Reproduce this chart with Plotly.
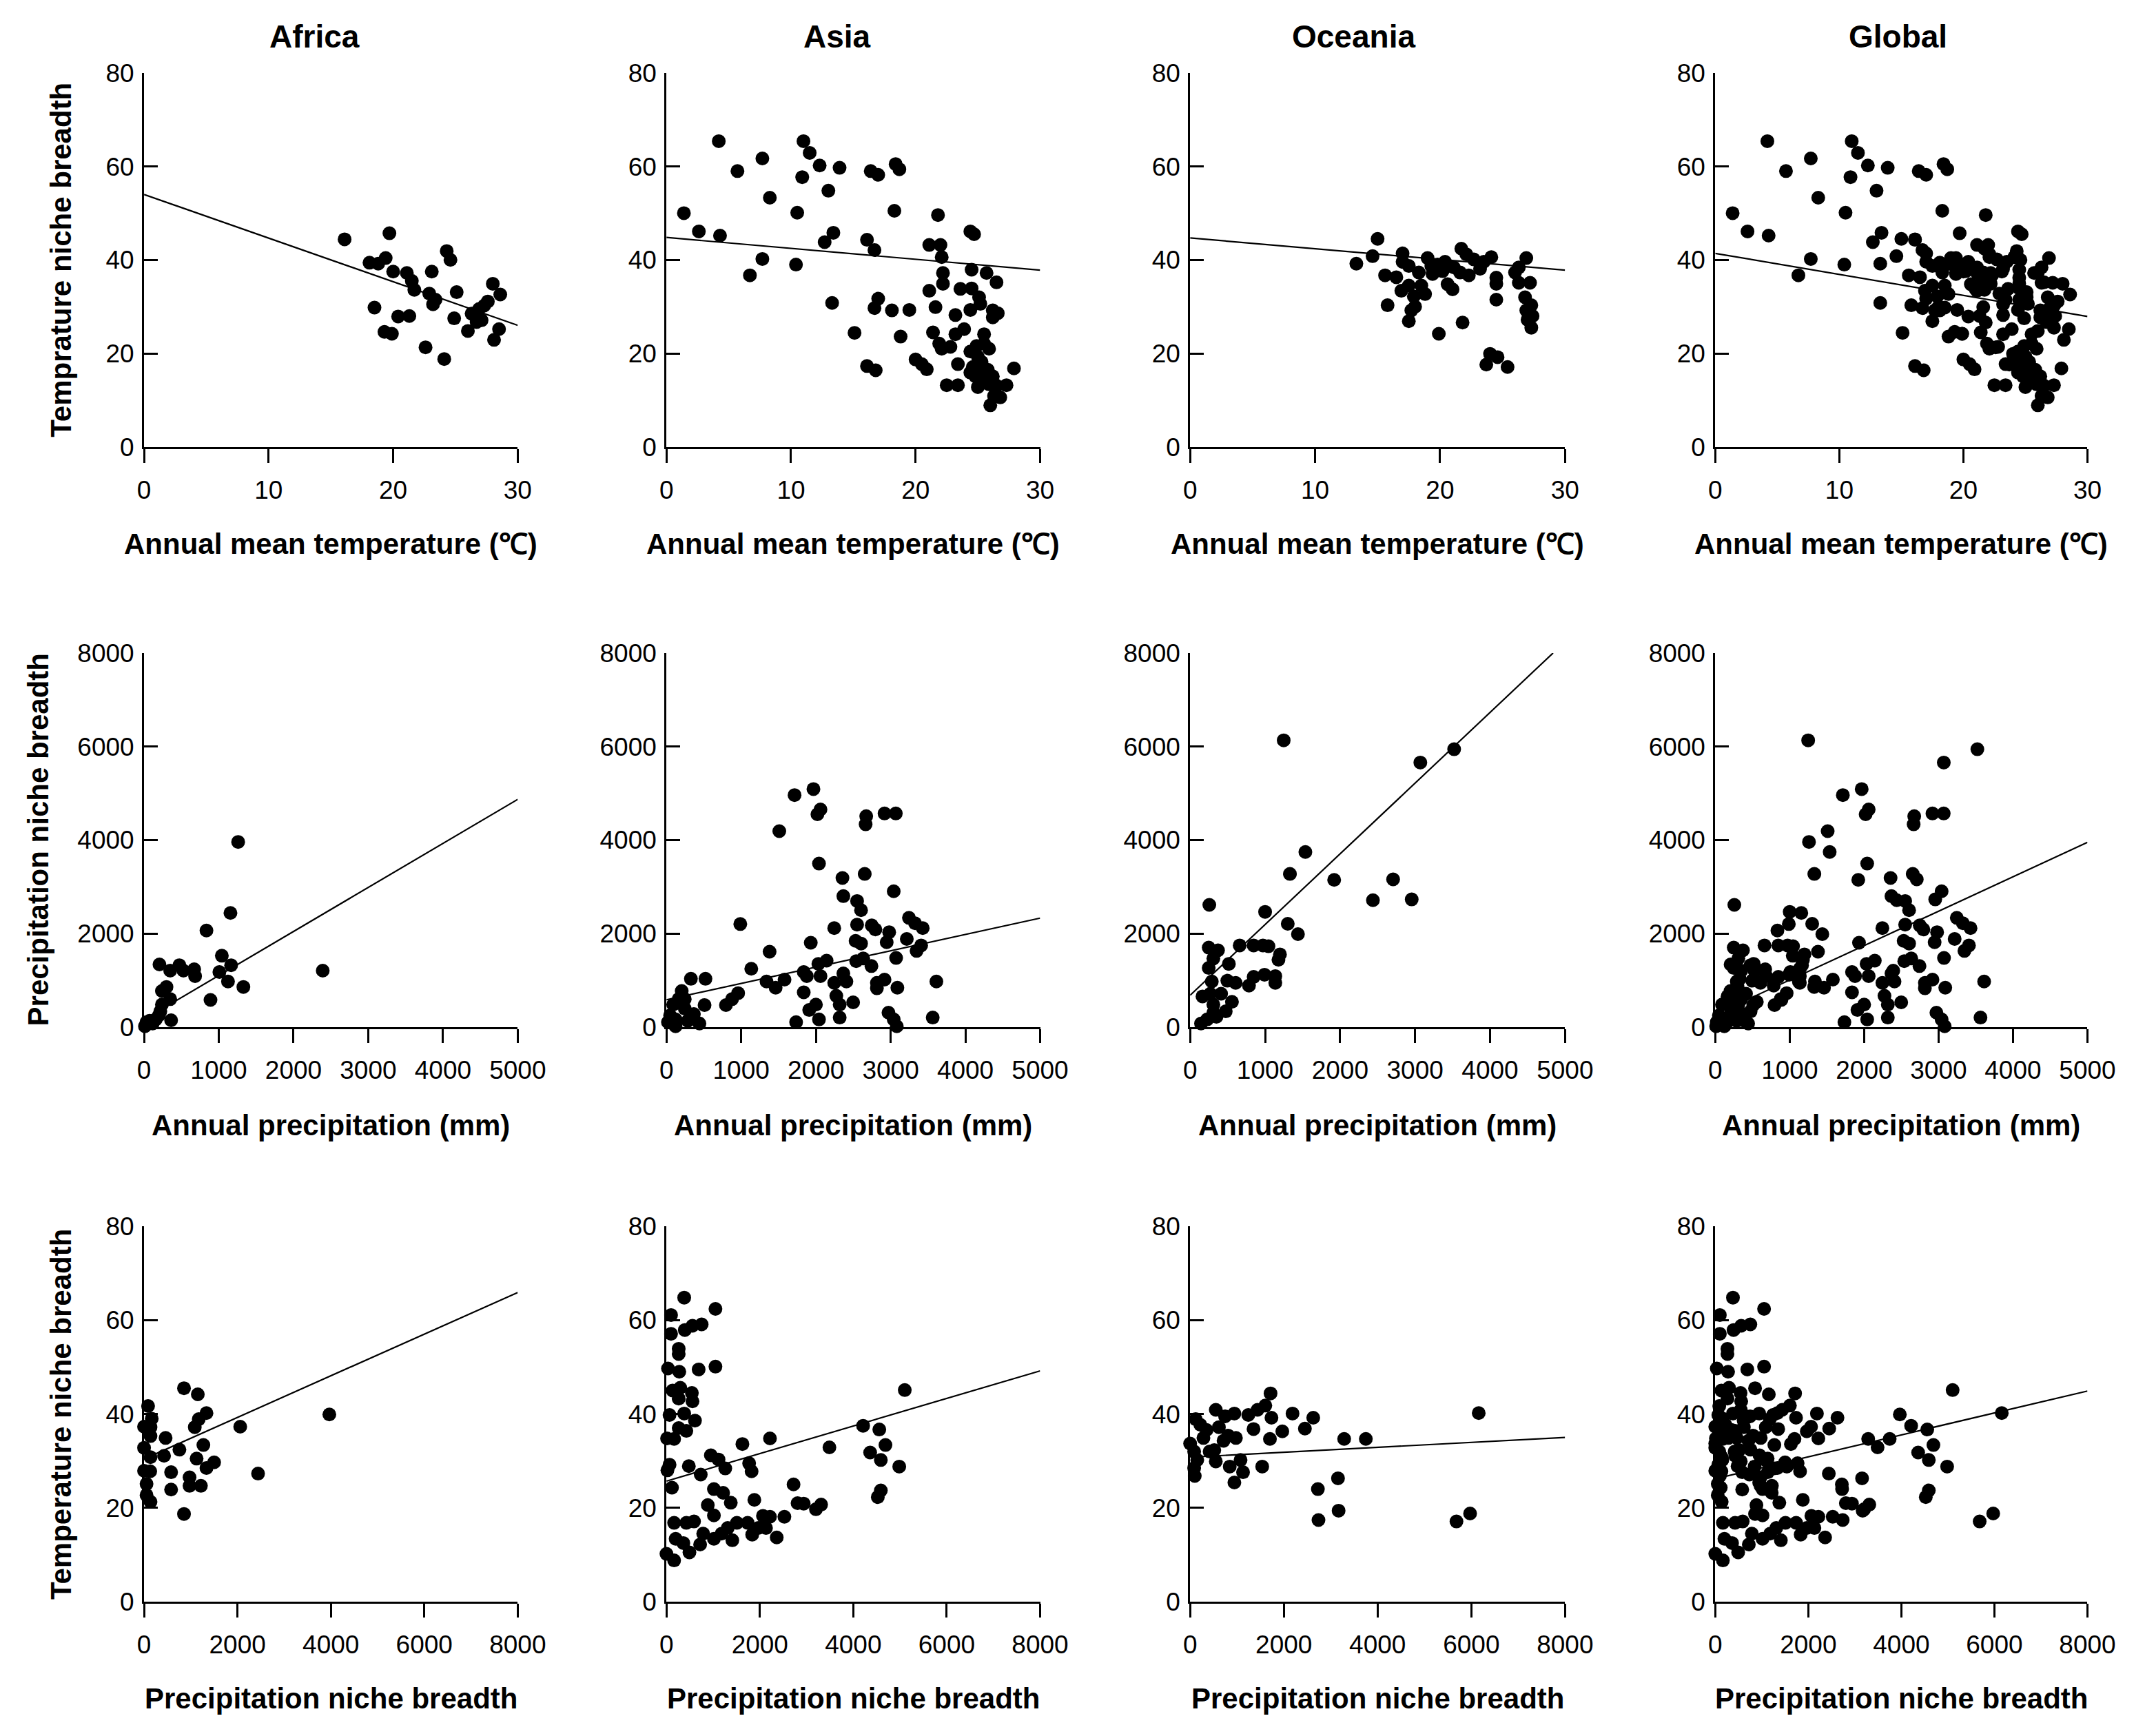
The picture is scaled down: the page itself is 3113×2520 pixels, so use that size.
import plotly.graph_objects as go
from plotly.subplots import make_subplots

regions = ["Africa", "Asia", "Oceania", "Global"]

# ---- Africa ----
africa_temp = [16.1, 19.7, 18.1, 18.8, 19.4, 20.0, 21.1, 21.5, 21.7, 23.1,
               24.3, 24.6, 22.9, 23.4, 23.2, 25.1, 18.5, 20.4, 21.3, 19.3,
               19.9, 22.6, 24.1, 24.9, 26.0, 26.3, 26.8, 26.9, 27.3, 27.1,
               27.6, 28.0, 28.6, 28.1, 28.5, 26.7]
africa_temp_nb = [44.4, 45.7, 39.4, 39.2, 40.4, 37.5, 37.2, 35.5, 33.6, 37.5,
                  41.9, 40.0, 32.8, 31.5, 30.5, 33.1, 29.8, 27.9, 28.0, 24.6,
                  24.2, 21.3, 18.8, 27.5, 24.8, 28.5, 27.9, 29.5, 30.2, 27.1,
                  31.1, 34.9, 32.6, 22.9, 25.2, 26.7]
africa_prec = [1259, 1156, 835, 206, 350, 473, 527, 671, 683, 1041,
               1008, 1123, 1165, 1329, 889, 2391, 239, 300, 350, 239,
               218, 362, 12, 74, 115, 156, 33, 198]
africa_prec_nb = [3960, 2441, 2064, 1339, 1206, 1322, 1206, 1235, 1090, 1525,
                  1177, 974, 1322, 858, 580, 1206, 771, 858, 597, 481,
                  336, 145, 17, 133, 75, 162, 104, 249]
africa_pnb3 = [855, 1151, 86, 164, 0, 138, 138, 461, 0, 138,
               428, 757, 579, 0, 132, 53, 53, 138, 579, 974,
               974, 1217, 855, 1086, 1171, 1336, 1270, 1125, 1336, 1500,
               2059, 2441, 3967]
africa_tnb3 = [45.5, 44.2, 41.7, 39.0, 37.3, 37.2, 35.3, 34.9, 32.8, 30.8,
               31.1, 32.4, 27.6, 27.9, 27.8, 25.1, 22.7, 21.3, 23.9, 26.5,
               24.7, 24.7, 18.7, 37.2, 38.9, 40.2, 33.4, 30.5, 28.5, 29.7,
               37.3, 27.3, 39.9]

# ---- Asia ----
asia_temp = [4.2, 1.4, 2.6, 4.3, 5.7, 7.7, 8.3, 6.7, 7.7, 11.0,
             11.5, 10.9, 12.3, 13.9, 10.5, 13.0, 10.4, 13.4, 12.7, 13.3,
             15.1, 16.1, 16.7, 16.4, 17.0, 18.4, 18.7, 18.3, 16.1, 16.8,
             17.0, 16.7, 18.1, 19.5, 18.8, 20.0, 20.5, 20.9, 21.1, 22.0,
             22.1, 21.8, 22.2, 22.2, 21.1, 21.6, 21.4, 21.9, 22.1, 22.8,
             23.2, 23.2, 23.9, 23.4, 22.5, 23.4, 24.4, 24.7, 24.5, 23.6,
             24.5, 25.1, 25.2, 24.4, 25.7, 26.5, 26.2, 26.6, 26.2, 25.5,
             25.5, 25.9, 24.4, 24.9, 25.0, 24.6, 25.3, 25.8, 24.8, 25.3,
             26.2, 25.0, 25.9, 26.5, 27.3, 26.3, 26.8, 26.0, 27.9, 24.4,
             25.5]
asia_temp_nb = [65.4, 50.0, 46.1, 45.2, 59.0, 61.7, 53.3, 36.7, 40.2, 65.4,
                62.9, 57.7, 60.2, 59.7, 50.1, 54.8, 39.0, 45.8, 43.8, 30.8,
                24.4, 44.3, 42.1, 59.0, 58.2, 60.5, 59.4, 50.5, 17.3, 16.4,
                31.7, 29.7, 29.2, 29.3, 23.6, 18.7, 17.7, 16.6, 43.2, 43.2,
                40.6, 49.6, 37.2, 34.9, 33.4, 29.9, 24.5, 22.1, 21.0, 21.4,
                28.2, 24.1, 25.2, 17.7, 13.2, 13.2, 46.1, 45.5, 37.9, 33.8,
                33.9, 32.0, 30.6, 29.3, 37.2, 35.2, 29.2, 28.6, 27.7, 24.1,
                22.1, 21.0, 20.4, 21.6, 19.3, 17.1, 18.2, 16.5, 15.1, 14.2,
                15.1, 12.8, 13.4, 13.1, 13.2, 10.9, 10.6, 8.9, 16.8, 15.9,
                15.9]
asia_prec = [1967, 1714, 2061, 2020, 1510, 2041, 2673, 2665, 2918, 3069,
             2653, 2355, 2367, 2551, 2604, 3041, 988, 2245, 2551, 2747,
             2796, 2980, 3245, 3327, 3429, 1931, 2531, 2604, 2947, 3216,
             3408, 3347, 3073, 1380, 1135, 2539, 2633, 2743, 2143, 2033,
             2061, 1837, 1878, 2367, 2408, 2245, 2816, 2918, 2816, 3090,
             3612, 1339, 1461, 1580, 1837, 2273, 2318, 2498, 2000, 1910,
             2041, 1735, 2318, 2971, 3041, 3082, 3563, 959, 878, 796,
             522, 327, 510, 441, 204, 163, 90, 245, 49, 122,
             20, 286, 122, 367, 245]
asia_prec_nb = [5090, 4962, 4655, 4551, 4191, 3496, 4510, 4336, 4568, 4568,
                3275, 3188, 2800, 2696, 2499, 2904, 2203, 2116, 2191, 2174,
                2087, 2029, 2336, 2220, 2116, 1803, 1843, 1786, 1814, 1884,
                1745, 1629, 1478, 1612, 1246, 1409, 1467, 1304, 1420, 1351,
                1090, 1177, 1090, 1148, 974, 945, 945, 1014, 829, 841,
                974, 974, 841, 1014, 742, 667, 481, 528, 481, 365,
                162, 104, 203, 307, 162, 17, 203, 725, 597, 470,
                1032, 1032, 470, 75, 771, 597, 481, 394, 249, 162,
                104, 133, 17, 278, 597]
asia_pnb3 = [380, 1049, 98, 98, 393, 557, 754, 262, 262, 33,
             275, 689, 1049, 131, 295, 544, 557, 262, 66, 380,
             610, 262, 426, 164, 13, 66, 20, 118, 479, 734,
             951, 1115, 1259, 1626, 2216, 1770, 1823, 2721, 3489, 4210,
             4557, 4689, 4361, 4590, 4984, 5102, 4590, 4525, 1016, 1213,
             1377, 885, 1016, 1882, 2807, 2938, 3200, 3311, 2525, 2066,
             2216, 2131, 2361, 1836, 1738, 1508, 1410, 1311, 1016, 721,
             590, 426, 164, 197, 361, 492, 0, 164, 787, 1180,
             1967]
asia_tnb3 = [64.8, 62.4, 61.1, 57.1, 57.9, 58.8, 59.1, 53.9, 52.8, 49.7,
             49.0, 49.5, 50.1, 45.0, 45.6, 44.5, 42.7, 43.3, 39.8, 40.1,
             38.6, 37.0, 36.4, 34.7, 34.8, 29.2, 28.0, 24.3, 28.9, 27.1,
             31.2, 30.3, 28.4, 33.6, 34.8, 29.5, 27.8, 25.0, 32.9, 37.5,
             36.7, 33.4, 31.8, 30.2, 28.8, 45.1, 23.7, 22.3, 24.0, 23.2,
             21.1, 20.6, 18.4, 21.7, 21.0, 20.9, 19.7, 20.7, 18.1, 18.3,
             18.1, 15.7, 13.7, 14.3, 16.8, 16.8, 13.1, 15.7, 13.4, 12.2,
             17.1, 16.8, 16.8, 13.4, 12.5, 10.5, 10.2, 8.8, 14.5, 14.5,
             15.7]

# ---- Oceania ----
oceania_temp = [15.0, 13.3, 14.6, 15.6, 16.5, 15.8, 17.0, 17.0, 17.5, 16.9,
                17.5, 17.9, 18.8, 18.0, 17.7, 17.5, 18.3, 19.0, 19.4, 19.8,
                20.4, 20.2, 21.1, 20.6, 21.0, 21.6, 21.7, 22.1, 22.3, 22.7,
                23.2, 23.5, 24.1, 19.9, 21.8, 24.5, 24.5, 24.5, 23.7, 24.0,
                24.6, 25.4, 26.0, 26.3, 26.9, 26.3, 27.2, 26.8, 27.3, 26.9,
                27.4, 27.0, 27.3, 18.5, 19.3]
oceania_temp_nb = [44.5, 39.2, 40.8, 36.7, 36.3, 30.3, 41.4, 39.6, 38.7, 33.4,
                   34.5, 32.2, 32.7, 30.0, 29.2, 26.9, 37.3, 40.4, 37.0, 39.0,
                   39.6, 37.6, 38.4, 34.8, 33.7, 37.3, 42.4, 41.2, 36.7, 40.1,
                   38.1, 39.6, 40.6, 24.2, 26.6, 36.2, 34.9, 31.5, 17.6, 19.9,
                   19.2, 17.1, 37.3, 38.4, 40.4, 35.1, 35.1, 32.0, 30.3, 29.2,
                   28.0, 27.2, 25.5, 34.5, 38.7]
oceania_prec = [1248, 3521, 3070, 1537, 1331, 1921, 2707, 2438, 2955, 256,
                1000, 1302, 1438, 661, 847, 971, 1045, 248, 372, 310,
                1198, 1178, 517, 248, 785, 847, 992, 1136, 1136, 607,
                496, 289, 165, 269, 558, 475, 310, 351, 227, 145,
                413, 310]
oceania_prec_nb = [6133, 5942, 5658, 3745, 3275, 3148, 3159, 2713, 2730, 2614,
                   2464, 2209, 1988, 1745, 1745, 1745, 1728, 1699, 1641, 1467,
                   1554, 1438, 1351, 1264, 887, 1072, 1119, 1090, 945, 945,
                   991, 974, 655, 713, 539, 336, 481, 220, 162, 75,
                   713, 307]
oceania_pnb3 = [6158, 5683, 5974, 1716, 2185, 2627, 2449, 1967, 1703, 3287,
                3749, 1538, 2726, 3155, 3168, 2739, 1353, 1241, 1439, 1604,
                1736, 944, 977, 1076, 845, 1129, 944, 548, 746, 713,
                515, 548, 119, 218, 284, 0, 86, 152, 86, 99,
                416, 350, 614, 812]
oceania_tnb3 = [40.2, 17.1, 18.8, 44.4, 40.1, 39.2, 36.9, 36.3, 34.7, 34.7,
                34.7, 28.8, 24.0, 26.3, 19.4, 17.4, 36.8, 39.8, 40.9, 41.8,
                39.2, 40.1, 34.9, 30.2, 28.8, 27.6, 25.4, 40.9, 39.5, 34.3,
                32.3, 29.9, 38.9, 37.7, 34.9, 33.7, 32.0, 30.2, 28.5, 26.8,
                32.0, 36.6, 37.2, 35.4]

# Global = all three regions pooled
global_temp = africa_temp + asia_temp + oceania_temp
global_temp_nb = africa_temp_nb + asia_temp_nb + oceania_temp_nb
global_prec = africa_prec + asia_prec + oceania_prec
global_prec_nb = africa_prec_nb + asia_prec_nb + oceania_prec_nb
global_pnb3 = africa_pnb3 + asia_pnb3 + oceania_pnb3
global_tnb3 = africa_tnb3 + asia_tnb3 + oceania_tnb3

# fitted regression lines (end points)
fit_row1_x = [[0, 30], [0, 30], [0, 30], [0, 30]]
fit_row1_y = [[54.0, 26.0], [44.8, 37.8], [44.7, 37.8], [41.4, 27.9]]
fit_row2_x = [[0, 5000], [0, 5000], [0, 4840], [0, 5000]]
fit_row2_y = [[160, 4870], [583, 2330], [680, 8000], [270, 3950]]
fit_row3_x = [[0, 8000], [0, 8000], [0, 8000], [0, 8000]]
fit_row3_y = [[30.4, 65.9], [25.7, 49.2], [30.8, 35.0], [26.2, 44.9]]

row_data = [
    [(africa_temp, africa_temp_nb), (asia_temp, asia_temp_nb),
     (oceania_temp, oceania_temp_nb), (global_temp, global_temp_nb)],
    [(africa_prec, africa_prec_nb), (asia_prec, asia_prec_nb),
     (oceania_prec, oceania_prec_nb), (global_prec, global_prec_nb)],
    [(africa_pnb3, africa_tnb3), (asia_pnb3, asia_tnb3),
     (oceania_pnb3, oceania_tnb3), (global_pnb3, global_tnb3)],
]
row_fits = [(fit_row1_x, fit_row1_y), (fit_row2_x, fit_row2_y), (fit_row3_x, fit_row3_y)]

x_ticks = [[0, 10, 20, 30], [0, 1000, 2000, 3000, 4000, 5000], [0, 2000, 4000, 6000, 8000]]
y_ticks = [[0, 20, 40, 60, 80], [0, 2000, 4000, 6000, 8000], [0, 20, 40, 60, 80]]
x_titles = ["Annual mean temperature (℃)", "Annual precipitation (mm)", "Precipitation niche breadth"]
y_titles = ["Temprature niche breadth", "Precipitation niche breadth", "Temperature niche breadth"]

W, H = 3113, 2520
FONT = "Liberation Sans, Arial, sans-serif"

# plot area positions in the figure (paper fractions)
x_dom = [[0.0624, 0.2395], [0.3100, 0.4871], [0.5582, 0.7359], [0.8071, 0.9835]]
y_dom = [[0.7496, 0.9686], [0.4099, 0.6289], [0.0734, 0.2932]]

fig = make_subplots(rows=3, cols=4)

for r in range(3):
    for c in range(4):
        xs, ys = row_data[r][c]
        fig.add_trace(go.Scatter(
            x=xs, y=ys, mode="markers",
            marker=dict(size=20, color="black"),
            cliponaxis=False, showlegend=False, hoverinfo="x+y"
        ), row=r + 1, col=c + 1)
        fx, fy = row_fits[r][0][c], row_fits[r][1][c]
        fig.add_trace(go.Scatter(
            x=fx, y=fy, mode="lines",
            line=dict(color="black", width=2.2),
            showlegend=False, hoverinfo="skip"
        ), row=r + 1, col=c + 1)

        idx = r * 4 + c + 1
        sfx = "" if idx == 1 else str(idx)
        xt, yt = x_ticks[r], y_ticks[r]
        fig.layout["xaxis" + sfx].update(
            domain=x_dom[c], range=[xt[0], xt[-1]], tickvals=xt,
            showline=True, linecolor="black", linewidth=3,
            ticks="outside", ticklen=20, tickwidth=3, tickcolor="black",
            ticklabelstandoff=8,
            showgrid=False, zeroline=False,
            tickfont=dict(family=FONT, size=37, color="black"),
        )
        fig.layout["yaxis" + sfx].update(
            domain=y_dom[r], range=[yt[0], yt[-1]], tickvals=yt,
            showline=True, linecolor="black", linewidth=3,
            ticks="inside", ticklen=20, tickwidth=3, tickcolor="black",
            ticklabelstandoff=4,
            showgrid=False, zeroline=False,
            tickfont=dict(family=FONT, size=37, color="black"),
        )

annotations = []
# column headers
title_x = [0.1432, 0.3908, 0.6358, 0.8936]
for c, name in enumerate(regions):
    annotations.append(dict(
        text="<b>" + name + "</b>", x=title_x[c], y=0.990,
        xref="paper", yref="paper", xanchor="center", yanchor="middle",
        showarrow=False, font=dict(family=FONT, size=46, color="black")))
# x axis titles
x_title_y = [0.6928, 0.3524, 0.0167]
for r in range(3):
    for c in range(4):
        annotations.append(dict(
            text="<b>" + x_titles[r] + "</b>", x=sum(x_dom[c]) / 2, y=x_title_y[r],
            xref="paper", yref="paper", xanchor="center", yanchor="middle",
            showarrow=False, font=dict(family=FONT, size=42, color="black")))
# y axis titles (first column only)
y_title_x = [0.0230, 0.0121, 0.0230]
for r in range(3):
    annotations.append(dict(
        text="<b>" + y_titles[r] + "</b>", x=y_title_x[r], y=sum(y_dom[r]) / 2,
        xref="paper", yref="paper", xanchor="center", yanchor="middle",
        showarrow=False, textangle=-90,
        font=dict(family=FONT, size=42, color="black")))

fig.update_layout(
    width=W, height=H,
    margin=dict(l=0, r=0, t=0, b=0),
    paper_bgcolor="white", plot_bgcolor="white",
    annotations=annotations,
    showlegend=False,
)

fig.write_html("out.html")
